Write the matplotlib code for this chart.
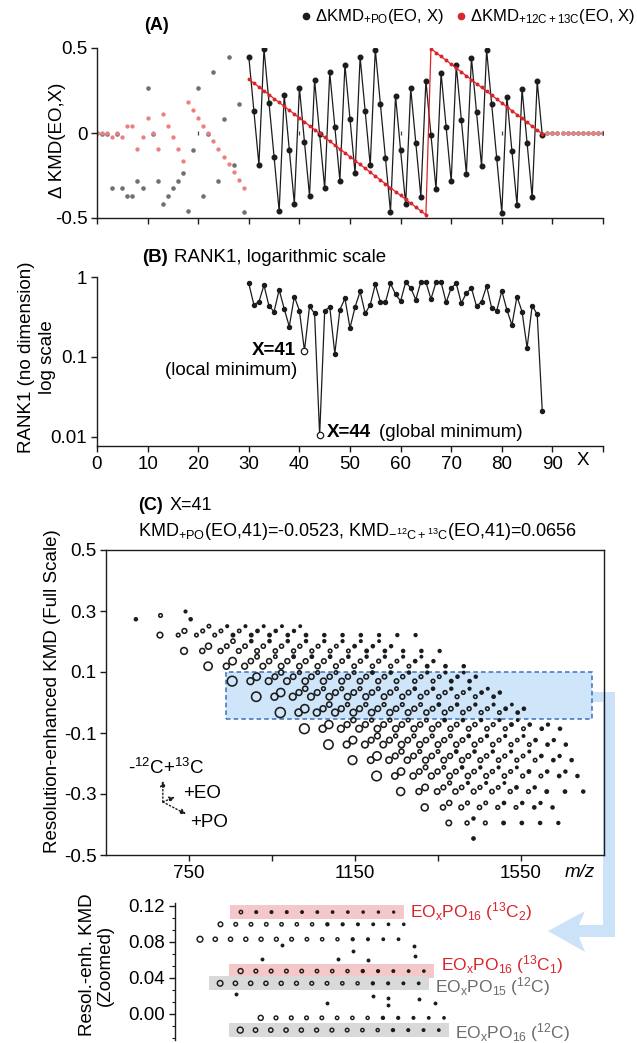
import numpy as np
import matplotlib
matplotlib.use('Agg')
import matplotlib.pyplot as plt
from matplotlib.patches import Rectangle, Polygon
from matplotlib.lines import Line2D
from matplotlib.ticker import AutoMinorLocator, NullLocator

plt.rcParams['font.family'] = ['Liberation Sans', 'DejaVu Sans']
plt.rcParams['mathtext.fontset'] = 'custom'
plt.rcParams['mathtext.rm'] = 'Liberation Sans'
plt.rcParams['mathtext.it'] = 'Liberation Sans:italic'
plt.rcParams['mathtext.bf'] = 'Liberation Sans:bold'
plt.rcParams['axes.unicode_minus'] = False
plt.rcParams['font.size'] = 13

W, H = 637, 1043
INK = '#1c1c1c'
RED = '#d9242b'
GRAY_TXT = '#6b6b6b'
FS = 13.5

# ---- (A) delta KMD for +PO and -12C+13C vs divisor X ----
x_main = list(range(30, 89))
dkmd_po = [0.4496, 0.1312, -0.1871, 0.4945, 0.1762, -0.1421, -0.4605, 0.2212, -0.0972, -0.4155,
           0.2661, -0.0523, -0.3706, 0.3111, -0.0073, -0.3256, 0.3560, 0.0377, -0.2807, 0.4010,
           0.0827, -0.2357, 0.4460, 0.1276, -0.1907, 0.4909, 0.1726, -0.1458, -0.4641, 0.2175,
           -0.1008, -0.4192, 0.2625, -0.0559, -0.3742, 0.3074, -0.0109, -0.3292, 0.3524, 0.0341,
           -0.2843, 0.3974, 0.0790, -0.2393, 0.4423, 0.1240, -0.1944, 0.4873, 0.1689, -0.1494,
           -0.4678, 0.2139, -0.1045, -0.4228, 0.2589, -0.0595, -0.3778, 0.3038, -0.0145]
dkmd_c13 = [0.3163, 0.2935, 0.2707, 0.2479, 0.2251, 0.2023, 0.1796, 0.1568, 0.1340, 0.1112,
            0.0884, 0.0656, 0.0428, 0.0200, -0.0028, -0.0256, -0.0483, -0.0711, -0.0939, -0.1167,
            -0.1395, -0.1623, -0.1851, -0.2079, -0.2307, -0.2535, -0.2762, -0.2990, -0.3218, -0.3446,
            -0.3674, -0.3902, -0.4130, -0.4358, -0.4586, -0.4814, 0.4959, 0.4731, 0.4503, 0.4275,
            0.4047, 0.3819, 0.3591, 0.3363, 0.3135, 0.2907, 0.2680, 0.2452, 0.2224, 0.1996,
            0.1768, 0.1540, 0.1312, 0.1084, 0.0856, 0.0628, 0.0400, 0.0172, -0.0055]

# divisors outside 30..88 (shown faded)
x_faded = list(range(0, 30)) + list(range(89, 101))
dkmd_po_faded = [0.0, -0.0073, -0.0073, -0.3256, -0.0073, -0.3256, -0.3706, -0.3706, -0.2807, -0.3256,
                 0.2661, -0.0073, -0.2807, -0.4155, -0.3706, -0.3256, -0.2807, -0.2357, -0.4605, -0.0972,
                 0.2661, -0.3706, -0.0073, 0.3560, -0.2807, 0.0827, 0.4460, -0.1907, 0.1726, -0.4641,
                 0, 0, 0, 0, 0, 0, 0, 0, 0, 0, 0, 0]
dkmd_c13_faded = [0.0, -0.0028, -0.0028, -0.0256, -0.0028, -0.0256, 0.0428, 0.0428, -0.0939, -0.0256,
                  0.0884, -0.0028, -0.0939, 0.1112, 0.0428, -0.0256, -0.0939, -0.1623, 0.1796, 0.1340,
                  0.0884, 0.0428, -0.0028, -0.0483, -0.0939, -0.1395, -0.1851, -0.2307, -0.2762, -0.3218,
                  0, 0, 0, 0, 0, 0, 0, 0, 0, 0, 0, 0]

# ---- (B) RANK1 vs X ----
rank1 = [0.83, 0.45, 0.49, 0.79, 0.43, 0.37, 0.69, 0.40, 0.24, 0.57,
         0.38, 0.12, 0.43, 0.35, 0.0105, 0.38, 0.42, 0.11, 0.39, 0.54,
         0.23, 0.42, 0.66, 0.35, 0.45, 0.81, 0.49, 0.48, 0.83, 0.61,
         0.50, 0.86, 0.73, 0.52, 0.87, 0.86, 0.53, 0.86, 0.86, 0.48,
         0.73, 0.83, 0.47, 0.63, 0.73, 0.43, 0.49, 0.77, 0.41, 0.38,
         0.67, 0.39, 0.25, 0.57, 0.37, 0.13, 0.44, 0.34, 0.021]
x_local, x_global = 41, 44

# ---- (C) KMD plot at X=41, one row per PO count (EO series along each row) ----
kmd_po_shift = -0.0523
kmd_c13_shift = 0.0656
c13_mass = 1.0034
po_counts = list(range(10, 25))
row_kmd = [0.273, 0.221, 0.169, 0.119, 0.070, 0.019, -0.033, -0.086, -0.138, -0.189,
           -0.241, -0.292, -0.344, -0.395, -0.444]
row_mz = [
    [622, 754],
    [680, 724, 768, 812, 856, 900, 944, 988, 1032, 1076, 1120, 1164, 1208, 1252, 1296],
    [738, 782, 826, 870, 914, 958, 1002, 1046, 1090, 1134, 1178, 1222, 1266, 1310, 1354],
    [796, 840, 884, 928, 972, 1016, 1060, 1104, 1148, 1192, 1236, 1280, 1324, 1368, 1412],
    [854, 898, 942, 986, 1030, 1074, 1118, 1162, 1206, 1250, 1294, 1338, 1382, 1426],
    [912, 956, 1000, 1044, 1088, 1132, 1176, 1220, 1264, 1308, 1352, 1396, 1440, 1484],
    [970, 1014, 1058, 1102, 1146, 1190, 1234, 1278, 1322, 1366, 1410, 1454, 1498, 1542],
    [1028, 1072, 1116, 1160, 1204, 1248, 1292, 1336, 1380, 1424, 1468, 1512, 1556, 1600, 1644],
    [1086, 1130, 1174, 1218, 1262, 1306, 1350, 1394, 1438, 1482, 1526, 1570, 1614, 1658],
    [1144, 1188, 1232, 1276, 1320, 1364, 1408, 1452, 1496, 1540, 1584, 1628, 1672],
    [1202, 1246, 1290, 1334, 1378, 1422, 1466, 1510, 1554, 1598, 1642, 1686],
    [1260, 1304, 1348, 1392, 1436, 1480, 1524, 1568, 1612, 1656, 1700],
    [1318, 1362, 1406, 1450, 1494, 1538, 1582, 1626],
    [1376, 1420, 1464, 1508, 1552, 1596, 1640],
    [1434],
]
row_intensity = [
    [6, 6],
    [28, 10, 9, 9, 8, 8, 8, 7, 7, 6, 6, 6, 5, 5, 5],
    [42, 22, 20, 18, 16, 14, 12, 11, 10, 9, 8, 7, 6, 6, 5],
    [65, 32, 30, 28, 26, 24, 21, 18, 15, 13, 11, 9, 8, 7, 6],
    [92, 42, 40, 38, 35, 32, 28, 24, 20, 16, 13, 10, 8, 7],
    [85, 44, 42, 40, 37, 34, 30, 26, 21, 17, 14, 11, 9, 7],
    [98, 46, 44, 42, 39, 35, 31, 27, 22, 18, 14, 11, 9, 7],
    [92, 44, 42, 40, 37, 33, 29, 25, 21, 17, 14, 11, 9, 7, 6],
    [85, 42, 40, 37, 34, 30, 26, 22, 18, 14, 11, 9, 7, 6],
    [72, 38, 36, 33, 30, 26, 22, 18, 14, 11, 9, 7, 6],
    [88, 36, 33, 30, 26, 22, 18, 14, 11, 9, 7, 6],
    [60, 30, 26, 22, 18, 15, 12, 10, 8, 7, 6],
    [45, 22, 18, 14, 11, 9, 7, 6],
    [26, 12, 10, 8, 7, 6, 5],
    [7],
]
iso1_ratio = [0.0, 0.35, 0.45, 0.5, 0.55, 0.6, 0.65, 0.7, 0.72, 0.75, 0.78, 0.8, 0.82, 0.85, 0.85]
iso2_ratio = [0.0, 0.0, 0.1, 0.13, 0.16, 0.19, 0.22, 0.25, 0.28, 0.3, 0.32, 0.35, 0.37, 0.4, 0.4]

# zoomed view: PO14..PO17 on its own KMD scale
zoom_po = [14, 15, 16, 17]
zoom_kmd = [0.083, 0.034, -0.018, -0.070]
zoom_extra_mz = [1089, 1032, 1295, 1470, 1473, 1251, 1339, 957, 1353, 1396, 1486, 1396, 1219, 1531]
zoom_extra_kmd = [0.077, 0.061, 0.070, 0.075, 0.064, 0.061, 0.060, 0.022, 0.020, 0.018, 0.017,
                  0.010, 0.012, 0.012]


def frac(l, t, r, b):
    return [l / W, 1 - b / H, (r - l) / W, (b - t) / H]


def fpx(x, y):
    return (x / W, 1 - y / H)


def style(ax):
    for s in ax.spines.values():
        s.set_color(INK)
        s.set_linewidth(1.0)
    ax.tick_params(direction='out', length=4, width=1.0, color=INK, labelsize=FS, pad=3)


def series(j, n):
    mz = np.array(row_mz[j], float) + n * c13_mass
    ratio = (1.0, iso1_ratio[j], iso2_ratio[j])[n]
    inten = np.array(row_intensity[j], float) * ratio
    keep = inten >= (0, 5, 3)[n]
    return mz[keep], inten[keep]


def bubbles(ax, mz, kmd, inten, a, b, lw, solid_below):
    # marker diameter (px) grows with sqrt(intensity); weakest peaks become solid dots
    d = a + b * np.sqrt(np.asarray(inten))
    face = [INK if v < solid_below else 'none' for v in d]
    ax.scatter(mz, np.full(len(mz), kmd), s=(d * 0.72) ** 2, facecolors=face,
               edgecolors=INK, linewidths=lw, zorder=3)


fig = plt.figure(figsize=(W / 100, H / 100), dpi=100)

# ---------------- (A) ----------------
axA = fig.add_axes(frac(97, 48, 603, 218))
style(axA)
axA.spines['top'].set_visible(False)
axA.spines['right'].set_visible(False)
axA.plot(x_faded, dkmd_po_faded, 'o', ms=3.3, color='#707070', mec='none', zorder=2)
axA.plot(x_faded, dkmd_c13_faded, 'o', ms=3.1, color='#ec8080', mec='none', zorder=2)
axA.plot(x_main, dkmd_po, '-o', color=INK, lw=0.9, ms=3.3, zorder=3)
axA.plot(x_main, dkmd_c13, '-o', color=RED, lw=0.9, ms=2.8, mec='none', zorder=4)
xt = list(range(0, 101, 10))
axA.plot(xt[2::2], [0] * len(xt[2::2]), '|', ms=3.5, mew=0.9, color='#444444', zorder=5)
axA.set_xlim(0, 100)
axA.set_ylim(-0.5, 0.5)
axA.set_xticks(xt)
axA.set_xticklabels([])
axA.set_yticks([-0.5, 0, 0.5])
axA.set_yticklabels(['-0.5', '0', '0.5'])
axA.text(0.118, 1.135, '(A)', transform=axA.transAxes, ha='center', va='center',
         fontweight='bold', fontsize=13)
fig.text(*fpx(57, 140), 'Δ KMD(EO,X)', rotation=90, ha='center', va='center', fontsize=FS)

handles = [Line2D([], [], marker='o', ls='none', color=INK, ms=4.5),
           Line2D([], [], marker='o', ls='none', color=RED, ms=4.5)]
fig.legend(handles, [r'ΔKMD$_{\mathrm{+PO}}$(EO, X)', r'ΔKMD$_{\mathrm{+12C+13C}}$(EO, X)'],
           loc='center', bbox_to_anchor=fpx(469, 17), ncol=2, frameon=False, fontsize=12,
           handlelength=0.4, handletextpad=0.35, columnspacing=0.8, borderpad=0, borderaxespad=0)

# ---------------- (B) ----------------
axB = fig.add_axes(frac(97, 277, 603, 446))
style(axB)
axB.spines['top'].set_visible(False)
axB.spines['right'].set_visible(False)
axB.set_yscale('log')
axB.plot(x_main, rank1, '-o', color=INK, lw=0.9, ms=2.9, zorder=3)
r_local = rank1[x_main.index(x_local)]
r_global = rank1[x_main.index(x_global)]
axB.plot([x_local, x_global], [r_local, r_global], 'o', ms=4.6, mfc='white', mec=INK, mew=0.9, zorder=4)
axB.set_xlim(0, 100)
axB.set_ylim(0.0077, 1)
axB.set_xticks(xt)
axB.set_xticklabels([str(v) for v in xt[:-1]] + [''])
axB.set_yticks([0.01, 0.1, 1])
axB.set_yticklabels(['0.01', '0.1', '1'])
axB.yaxis.set_minor_locator(NullLocator())
axB.text(96, -0.083, 'X', transform=axB.get_xaxis_transform(), ha='center', va='center', fontsize=FS)
axB.annotate('X=%d' % x_local, xy=(x_local, r_local), xytext=(-6, 0), textcoords='offset points',
             ha='right', va='center', fontweight='bold', fontsize=FS)
axB.annotate('(local minimum)', xy=(x_local, r_local), xytext=(-5, -14), textcoords='offset points',
             ha='right', va='center', fontsize=FS)
axB.annotate('X=%d' % x_global, xy=(x_global, r_global), xytext=(5, 2), textcoords='offset points',
             ha='left', va='center', fontweight='bold', fontsize=FS)
axB.annotate('(global minimum)', xy=(x_global, r_global), xytext=(43, 2), textcoords='offset points',
             ha='left', va='center', fontsize=FS)
fig.text(*fpx(142, 258), '(B)', fontweight='bold', ha='left', va='center', fontsize=FS)
fig.text(*fpx(174, 258), 'RANK1, logarithmic scale', ha='left', va='center', fontsize=FS)
fig.text(*fpx(27, 357), 'RANK1 (no dimension)', rotation=90, ha='center', va='center', fontsize=FS)
fig.text(*fpx(47, 357), 'log scale', rotation=90, ha='center', va='center', fontsize=FS)

# ---------------- (C) ----------------
axC = fig.add_axes(frac(106, 550, 604, 855))
style(axC)
axC.patch.set_visible(False)
axC.add_patch(Rectangle((840, -0.055), 880, 0.155, facecolor='#cfe5fa', edgecolor='#3a6fbd',
                        lw=1.1, ls=(0, (3, 2)), zorder=1))
for j in range(len(po_counts)):
    for n in range(3):
        mz, inten = series(j, n)
        bubbles(axC, mz, row_kmd[j] + n * kmd_c13_shift, inten, 0.6, 0.95, 1.15, 3.3)
axC.set_xlim(550, 1750)
axC.set_ylim(-0.5, 0.5)
axC.set_xticks([750, 950, 1150, 1350, 1550])
axC.set_xticklabels(['750', '', '1150', '', '1550'])
axC.set_yticks([-0.5, -0.3, -0.1, 0.1, 0.3, 0.5])
axC.set_yticklabels(['-0.5', '-0.3', '-0.1', '0.1', '0.3', '0.5'])
axC.text(1692, -0.056, 'm/z', transform=axC.get_xaxis_transform(), ha='center', va='center',
         fontstyle='italic', fontsize=FS)

# direction key
origin = (687, -0.326)
for tip in [(687, -0.257), (716, -0.31), (743, -0.366)]:
    axC.annotate('', xy=tip, xytext=origin,
                 arrowprops=dict(arrowstyle='-|>', color=INK, lw=1.0, ls=':', mutation_scale=8,
                                 shrinkA=0, shrinkB=0))
axC.text(695, -0.215, r'-$^{12}$C+$^{13}$C', ha='center', va='center', fontsize=FS)
axC.text(735, -0.300, '+EO', ha='left', va='center', fontsize=FS)
axC.text(752, -0.395, '+PO', ha='left', va='center', fontsize=FS)

fig.text(*fpx(138, 506), '(C)', fontweight='bold', ha='left', va='center', fontsize=13)
fig.text(*fpx(170, 506), 'X=%d' % x_local, ha='left', va='center', fontsize=13)
fig.text(*fpx(138, 532),
         r'KMD$_{\mathrm{+PO}}$(EO,41)=%.4f, KMD$_{\mathrm{-}^{12}\mathrm{C+}^{13}\mathrm{C}}$(EO,41)=%.4f'
         % (kmd_po_shift, kmd_c13_shift), ha='left', va='center', fontsize=13)
fig.text(*fpx(53, 691), 'Resolution-enhanced KMD (Full Scale)', rotation=90, ha='center',
         va='center', fontsize=FS)

# thick arrow from the highlighted region down to the zoomed view
arrow_px = [(592, 692), (615, 692), (615, 937), (579, 937), (585, 952), (548, 931), (585, 911),
            (579, 925), (603, 925), (603, 702), (592, 702)]
fig.add_artist(Polygon([fpx(x, y) for x, y in arrow_px], closed=True, transform=fig.transFigure,
                       facecolor='#cbe2f8', edgecolor='none', zorder=-1))

# ---------------- zoomed view ----------------
axD = fig.add_axes(frac(175, 903, 637, 1040))
style(axD)
axD.patch.set_visible(False)
for s in ['top', 'right', 'bottom']:
    axD.spines[s].set_visible(False)
zrows = [p - po_counts[0] for p in zoom_po]
for j, base in zip(zrows, zoom_kmd):
    for n in (0, 1):
        mz, inten = series(j, n)
        bubbles(axD, mz, base + n * kmd_c13_shift, inten, 1.0, 0.5, 1.05, 3.0)
j16 = zrows[zoom_po.index(16)]
k16 = zoom_kmd[zoom_po.index(16)]
k15 = zoom_kmd[zoom_po.index(15)]
j15 = zrows[zoom_po.index(15)]
mz, inten = series(j16, 2)
bubbles(axD, mz, k16 + 2 * kmd_c13_shift, inten, 1.0, 0.5, 1.05, 3.0)
axD.scatter(zoom_extra_mz, zoom_extra_kmd, s=(2.5 * 0.72) ** 2, color=INK, zorder=3)

highlights = [
    (j16, 2, k16, r'EO$_{\mathrm{x}}$PO$_{16}$ ($^{13}$C$_{2}$)', RED, '#f4c7c9', 0.001),
    (j16, 1, k16, r'EO$_{\mathrm{x}}$PO$_{16}$ ($^{13}$C$_{1}$)', RED, '#f4c7c9', 0.0075),
    (j15, 0, k15, r'EO$_{\mathrm{x}}$PO$_{15}$ ($^{12}$C)', GRAY_TXT, '#d9d9d9', -0.004),
    (j16, 0, k16, r'EO$_{\mathrm{x}}$PO$_{16}$ ($^{12}$C)', GRAY_TXT, '#d9d9d9', -0.003),
]
for j, n, base, label, tcol, bcol, dy in highlights:
    mz, _ = series(j, n)
    y = base + n * kmd_c13_shift
    x0, x1 = mz.min() - 32, mz.max() + 30
    axD.add_patch(Rectangle((x0, y - 0.0078), x1 - x0, 0.0156, facecolor=bcol, edgecolor='none',
                            zorder=1))
    axD.text(x1 + 18, y + dy, label, color=tcol, ha='left', va='center', fontsize=12.5, clip_on=False)

axD.set_xlim(782, 2113)
axD.set_ylim(-0.029, 0.1233)
axD.set_xticks([])
axD.set_yticks([0.0, 0.04, 0.08, 0.12])
axD.set_yticklabels(['0.00', '0.04', '0.08', '0.12'])
axD.yaxis.set_minor_locator(AutoMinorLocator(3))
axD.tick_params(which='minor', direction='out', length=2.5, width=0.8, color=INK)
fig.text(*fpx(87, 965), 'Resol.-enh. KMD', rotation=90, ha='center', va='center', fontsize=FS)
fig.text(*fpx(105, 965), '(Zoomed)', rotation=90, ha='center', va='center', fontsize=FS)

fig.savefig('out.png', dpi=100)
